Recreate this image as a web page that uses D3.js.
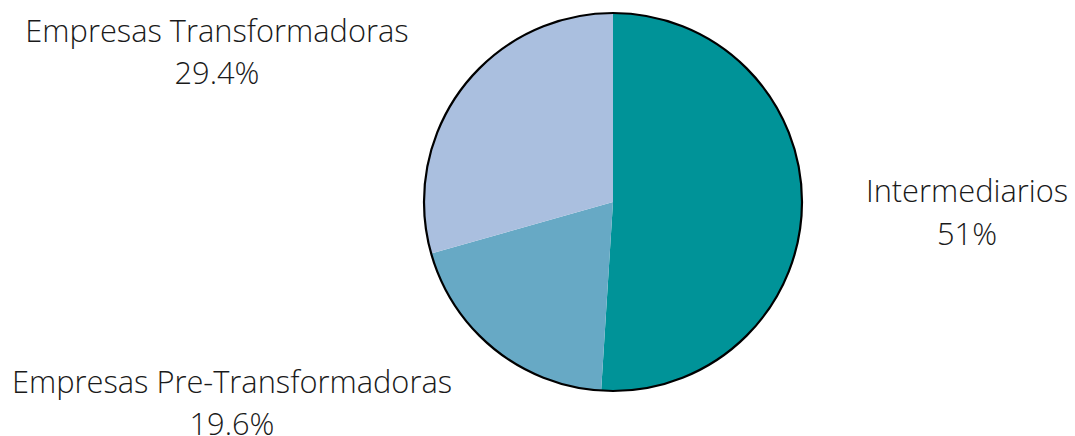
<!DOCTYPE html>
<html>
<head>
<meta charset="utf-8">
<script src="https://cdn.jsdelivr.net/npm/d3@7"></script>
<style>
  html, body { margin: 0; padding: 0; background: #fff; }
  svg { display: block; }
  text { font-family: "Open Sans", sans-serif; font-weight: 300; fill: #1a1a1a; }
</style>
</head>
<body>
<svg id="chart" width="1075" height="436"></svg>
<script>
const categories = ["Intermediarios", "Empresas Pre-Transformadoras", "Empresas Transformadoras"];
const values = [51, 19.6, 29.4];
const valueLabels = ["51%", "19.6%", "29.4%"];
const colors = ["#009398", "#67a9c5", "#aabfdf"];

const svg = d3.select("#chart");
const cx = 613, cy = 202, r = 189;

const data = categories.map((c, i) => ({ name: c, value: values[i], label: valueLabels[i], color: colors[i] }));
const pie = d3.pie().value(d => d.value).sort(null);
const arc = d3.arc().innerRadius(0).outerRadius(r);
const arcs = pie(data);

const g = svg.append("g").attr("transform", `translate(${cx},${cy})`);
g.selectAll("path.slice").data(arcs).enter().append("path")
  .attr("class", "slice")
  .attr("d", arc)
  .attr("fill", d => d.data.color);

g.append("circle").attr("r", r).attr("fill", "none").attr("stroke", "#000").attr("stroke-width", 2.2);

// label positions
const labelPos = [
  { x: 967, y1: 201.5, y2: 245 },
  { x: 232, y1: 393, y2: 435 },
  { x: 217, y1: 41.5, y2: 84 }
];
const fs = 30.8;
const lg = svg.append("g");
arcs.forEach((a, i) => {
  const p = labelPos[i];
  lg.append("text").attr("x", p.x).attr("y", p.y1).attr("text-anchor", "middle")
    .attr("font-size", fs).text(a.data.name);
  lg.append("text").attr("x", p.x).attr("y", p.y2).attr("text-anchor", "middle")
    .attr("font-size", fs).text(a.data.label);
});
</script>
</body>
</html>
